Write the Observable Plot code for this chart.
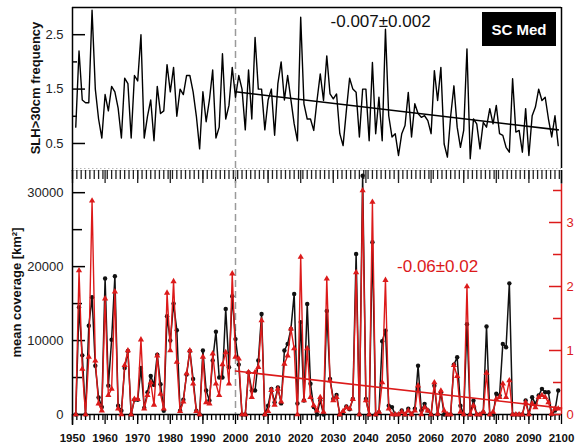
<!DOCTYPE html>
<html>
<head>
<meta charset="utf-8">
<script src="https://cdn.jsdelivr.net/npm/d3@7"></script>
<script src="https://cdn.jsdelivr.net/npm/@observablehq/plot@0.6"></script>
<style>
  body { margin: 0; background: #fff; }
  #chart { position: relative; width: 577px; height: 448px; overflow: hidden; font-family: "Liberation Sans", Arial, sans-serif; }
  #chart svg { position: absolute; left: 0; }
  #badge { position: absolute; left: 482px; top: 12px; width: 74px; height: 34px; background: #000; color: #fff;
           font: bold 15px "Liberation Sans", Arial, sans-serif; display: flex; align-items: center; justify-content: center; }
</style>
</head>
<body>
<div id="chart"><div id="badge">SC Med</div></div>
<script>
// ---------- data ----------
const years = d3.range(1951, 2100); // 1951 … 2099

// SLH>30cm frequency (top panel)
const slh = [
  0.8, 2.2, 1.3, 1.25, 1.25, 2.95, 1.5, 0.95, 0.6, 1.4,
  1.1, 1.55, 1.45, 1.15, 0.6, 1.7, 1.6, 0.6, 1.75, 1.65,
  2.5, 0.6, 1.0, 1.3, 0.55, 1.55, 1.05, 1.1, 1.95, 1.45,
  1.9, 1.0, 1.5, 1.4, 1.75, 1.75, 1.45, 1.0, 0.4, 1.45,
  0.9, 1.3, 1.85, 0.6, 0.8, 2.15, 0.95, 1.2, 1.9, 1.35,
  1.75, 1.5, 0.75, 1.85, 0.95, 2.45, 1.5, 1.5, 0.75, 1.3,
  1.5, 0.65, 1.6, 2.0, 1.3, 1.75, 1.3, 0.86, 0.55, 2.82,
  1.23, 0.95, 0.95, 0.74, 1.29, 1.78, 1.29, 2.11, 1.41, 1.32,
  1.41, 0.68, 0.46, 1.1, 1.7, 1.5, 1.44, 0.62, 1.5, 1.5,
  0.55, 1.99, 0.68, 1.35, 0.55, 2.6, 1.01, 0.62, 0.68, 0.28,
  0.68, 0.83, 1.44, 0.62, 1.23, 1.05, 0.98, 1.01, 0.92, 0.68,
  1.84, 1.29, 1.9, 0.49, 0.25, 1.0, 1.56, 0.8, 0.43, 0.74,
  2.24, 0.22, 0.95, 0.86, 0.4, 0.89, 0.8, 1.14, 0.86, 1.2,
  0.68, 0.65, 0.43, 0.34, 1.69, 0.71, 0.74, 0.34, 1.14, 0.28,
  1.01, 1.17, 1.5, 1.29, 1.35, 0.95, 0.62, 1.01, 0.46
];

// mean coverage [km²] (bottom panel, black, left axis)
const coverage = [
  0, 14500, 8000, 0, 12000, 15850, 6600, 2300, 1000, 18400,
  3900, 10100, 18700, 1200, 500, 6300, 8600, 0, 2000, 2000,
  6300, 900, 3000, 5200, 4000, 8100, 4100, 500, 13300, 10000,
  15000, 11400, 500, 2000, 5400, 8600, 4800, 500, 0, 8650,
  3240, 1900, 7300, 11200, 5000, 5000, 14280, 6400, 16000, 10200,
  6750, 0, 0, 5700, 3240, 3240, 7300, 13600, 0, 1200,
  3470, 1660, 3650, 1500, 8650, 9550, 11580, 16300, 1500, 12500,
  1900, 14950, 4150, 1000, 0, 1900, 0, 14000, 4800, 2100,
  2650, 0, 300, 1080, 700, 2100, 21700, 0, 32300, 2100,
  0, 23300, 0, 300, 9900, 11350, 1200, 1000, 0, 0,
  540, 0, 770, 0, 770, 6600, 540, 1440, 540, 0,
  3900, 0, 3000, 0, 0, 0, 6750, 7750, 1200, 0,
  12200, 0, 1900, 0, 0, 300, 11900, 0, 0, 2800,
  2570, 9550, 9100, 17740, 0, 0, 0, 0, 1900, 0,
  2340, 1440, 2570, 3470, 3000, 3000, 0, 540, 3240
];

// red series (bottom panel, right axis)
const redIndex = [
  0, 2.25, 0.71, 0, 0.9, 3.34, 0.84, 0.17, 0.06, 1.81,
  0.3, 0.4, 1.92, 0.09, 0, 0.77, 1.0, 0, 0.24, 0.24,
  1.17, 0.09, 0.3, 0.5, 0.15, 0.92, 0.32, 0.09, 1.9, 1.0,
  2.08, 0.82, 0.05, 0.2, 0.64, 1.0, 0.48, 0.05, 0, 0.9,
  0.19, 0.17, 0.95, 0.48, 0.3, 0.78, 0.97, 0.48, 2.2, 0.9,
  0.87, 0, 0, 0.66, 0.27, 0.66, 0.74, 1.47, 0, 0.05,
  0.38, 0.15, 0.4, 0.2, 0.79, 0.92, 1.34, 1.03, 0, 2.46,
  0.22, 1.03, 0.27, 0.14, 0.06, 0.27, 0.04, 2.12, 0.53, 0.22,
  0.27, 0, 0.05, 0.11, 0.09, 0.24, 2.22, 0, 3.5, 0.22,
  0, 3.32, 0, 0.04, 0.5, 2.1, 0.09, 0, 0, 0,
  0.04, 0, 0.06, 0, 0.06, 0.45, 0, 0.11, 0.06, 0,
  0.5, 0.01, 0.37, 0.06, 0, 0, 0.77, 0.6, 0.04, 0,
  2.0, 0, 0.14, 0, 0, 0.04, 0.65, 0, 0.04, 0.24,
  0.27, 0.48, 0.27, 0.53, 0, 0, 0, 0, 0.19, 0,
  0.17, 0.11, 0.27, 0.3, 0.27, 0.19, 0.01, 0.09, 0.09
];

// trend lines and their labels
const slhTrend = [{year: 2000, value: 1.45}, {year: 2099, value: 0.75}];
const redTrend = [{year: 2000, value: 0.68}, {year: 2100, value: 0.10}];
const slhTrendLabel = [{year: 2044.5, value: 2.74, text: "-0.007±0.002"}];
const redTrendLabel = [{year: 2062, value: 2.31, text: "-0.06±0.02"}];
const splitYear = [2000];

// axes
const xDomain = [1950, 2100];
const decadeTicks = d3.range(1950, 2101, 10);
const minorXTicks = d3.range(1950, 2100.01, 4 / 3);
const slhDomain = [0.04, 3.0];
const slhTicks = [0.5, 1.5, 2.5];
const slhMinorTicks = [1.0, 2.0];
const covDomain = [0, 33000];
const covTicks = [0, 10000, 20000, 30000];
const covMinorTicks = [5000, 15000, 25000];
const redDomain = [0, 3.8125];
const redTicks = [0, 1, 2, 3];
const redMinorTicks = [0.5, 1.5, 2.5, 3.5];
const redAxisTop = 3.6;

// ---------- rendering ----------
const rows = years.map((year, i) => ({year, slh: slh[i], cov: coverage[i], red: redIndex[i]}));
const RED = "#dc1a1a";
const FONT = "'Liberation Sans', Arial, sans-serif";
const W = 577, ML = 72, MR = 16;
const innerW = W - ML - MR; // 489
const dashed = {stroke: "#9a9a9a", strokeWidth: 1.5, strokeDasharray: "7,4"};
const style = {fontFamily: FONT, background: "transparent", color: "#111", overflow: "visible"};

const topPlot = Plot.plot({
  width: W, height: 170, marginLeft: ML, marginRight: MR, marginTop: 7, marginBottom: 2,
  style,
  x: {domain: xDomain, axis: null, label: null},
  y: {domain: slhDomain, axis: null, label: null},
  marks: [
    Plot.ruleX(splitYear, dashed),
    Plot.ruleY([slhDomain[0]], {stroke: "#b5b5b5", strokeDasharray: "1.5,2.5"}),
    Plot.ruleY([slhDomain[1]], {stroke: "#000", strokeWidth: 1.5}),
    Plot.ruleX([xDomain[1]], {stroke: "#000", strokeWidth: 1.5}),
    Plot.ruleX([xDomain[0]], {stroke: "#000", strokeWidth: 1.5, insetBottom: -3}),
    Plot.ruleY(slhTicks, {stroke: "#000", strokeWidth: 1.5, insetRight: innerW - 13}),
    Plot.ruleY(slhMinorTicks, {stroke: "#000", strokeWidth: 1.5, insetRight: innerW - 5}),
    Plot.axisY({ticks: slhTicks, tickSize: 0, tickPadding: 9, tickFormat: d3.format(".1f"), fontSize: 13, label: null, fill: "#222"}),
    Plot.text(["SLH>30cm frequency"], {frameAnchor: "left", textAnchor: "middle", dx: -37, rotate: -90, fontWeight: "bold", fontSize: 13, fill: "#111"}),
    Plot.line(rows, {x: "year", y: "slh", stroke: "#000", strokeWidth: 1.4}),
    Plot.line(slhTrend, {x: "year", y: "value", stroke: "#000", strokeWidth: 1.6}),
    Plot.text(slhTrendLabel, {x: "year", y: "value", text: "text", fontSize: 17, fill: "#111"})
  ]
});
topPlot.style.top = "0px";

const bottomPlot = Plot.plot({
  width: W, height: 278, marginLeft: ML, marginRight: MR, marginTop: 0, marginBottom: 34,
  style,
  x: {domain: xDomain, axis: null, label: null},
  y: {domain: covDomain, axis: null, label: null},
  marks: [
    Plot.ruleY([covDomain[1]], {stroke: "#c8c8c8"}),
    Plot.ruleX(minorXTicks, {stroke: "#222", strokeWidth: 1.3, insetBottom: 244 - 9}),
    Plot.ruleX(decadeTicks, {stroke: "#222", strokeWidth: 1.3, insetBottom: 244 - 13}),
    Plot.ruleX(splitYear, dashed),
    Plot.ruleX([xDomain[0]], {stroke: "#000", strokeWidth: 1.5, insetBottom: -11}),
    Plot.ruleY([0], {stroke: "#000", strokeWidth: 1.5}),
    Plot.ruleX(minorXTicks, {stroke: "#000", strokeWidth: 1.3, insetTop: 244, insetBottom: -6}),
    Plot.ruleX(decadeTicks, {stroke: "#000", strokeWidth: 1.3, insetTop: 244, insetBottom: -10}),
    Plot.ruleY(covTicks, {stroke: "#000", strokeWidth: 1.5, insetRight: innerW - 13}),
    Plot.ruleY(covMinorTicks, {stroke: "#000", strokeWidth: 1.5, insetRight: innerW - 10}),
    Plot.axisY({ticks: covTicks, tickSize: 0, tickPadding: 9, tickFormat: "d", fontSize: 13, label: null, fill: "#222"}),
    Plot.axisX({ticks: decadeTicks, tickSize: 0, tickPadding: 19, tickFormat: "d", fontSize: 11.5, fontWeight: "bold", label: null, fill: "#111"}),
    Plot.text(["mean coverage [km²]"], {frameAnchor: "left", textAnchor: "middle", dx: -56, rotate: -90, fontWeight: "bold", fontSize: 13, fill: "#111"}),
    Plot.line(rows, {x: "year", y: "cov", stroke: "#111", strokeWidth: 1.5}),
    Plot.dot(rows, {x: "year", y: "cov", r: 2.2, fill: "#111"})
  ]
});
bottomPlot.style.top = "170px";

const redPlot = Plot.plot({
  width: W, height: 278, marginLeft: ML, marginRight: MR, marginTop: 0, marginBottom: 34,
  style,
  x: {domain: xDomain, axis: null, label: null},
  y: {domain: redDomain, axis: null, label: null},
  marks: [
    Plot.ruleX([xDomain[1]], {y1: 0, y2: redAxisTop, stroke: RED, strokeWidth: 1.5}),
    Plot.ruleX([xDomain[1]], {y1: redAxisTop, y2: redDomain[1], stroke: "#000", strokeWidth: 1.5}),
    Plot.ruleY(redTicks, {stroke: RED, strokeWidth: 1.5, insetLeft: innerW - 12}),
    Plot.ruleY(redMinorTicks, {stroke: RED, strokeWidth: 1.5, insetLeft: innerW - 8}),
    Plot.axisY({anchor: "right", ticks: redTicks, tickSize: 0, tickPadding: 5, tickFormat: "d", fontSize: 13, label: null, color: RED}),
    Plot.line(rows, {x: "year", y: "red", stroke: RED, strokeWidth: 1.4}),
    Plot.dot(rows, {x: "year", y: "red", symbol: "triangle", r: 2.3, fill: RED}),
    Plot.line(redTrend, {x: "year", y: "value", stroke: RED, strokeWidth: 1.6}),
    Plot.text(redTrendLabel, {x: "year", y: "value", text: "text", fontSize: 17, fill: RED})
  ]
});
redPlot.style.top = "170px";

const chart = document.getElementById("chart");
const badge = document.getElementById("badge");
chart.insertBefore(topPlot, badge);
chart.insertBefore(bottomPlot, badge);
chart.insertBefore(redPlot, badge);
</script>
</body>
</html>
